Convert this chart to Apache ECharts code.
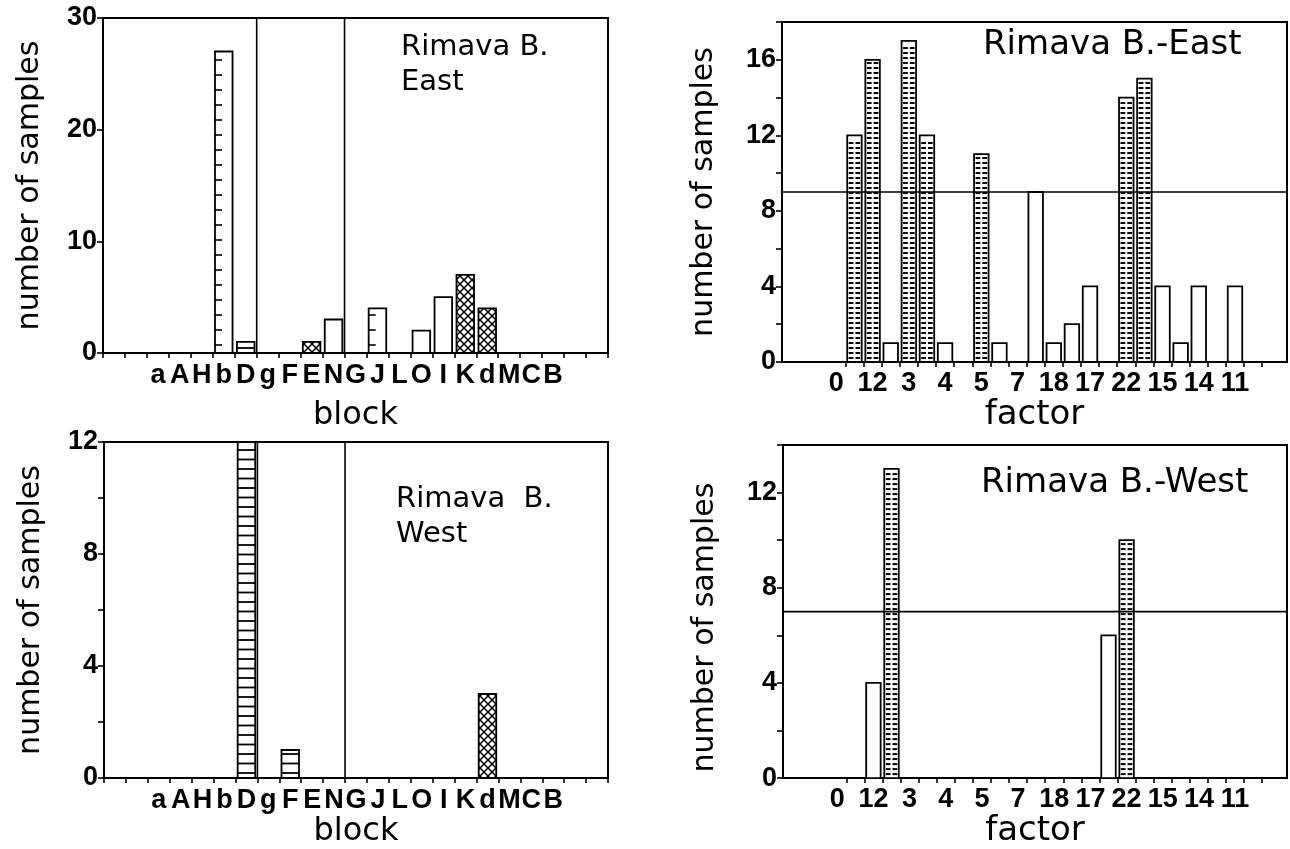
<!DOCTYPE html>
<html>
<head>
<meta charset="utf-8">
<title>Rimava B. blocks and factors</title>
<script src="https://cdn.jsdelivr.net/npm/echarts@6/dist/echarts.min.js"></script>
<style>
  html, body { margin: 0; padding: 0; background: #fff; }
  #chart { width: 1290px; height: 849px; }
</style>
</head>
<body>
<div id="chart"></div>
<script>
// ---- data ----
const blocks = ['', ' ', 'a', 'A', 'H', 'b', 'D', 'g', 'F', 'E', 'N', 'G', 'J', 'L', 'O', 'I', 'K', 'd', 'M', 'C', 'B', '  ', '   '];
const eastBlockCounts = [0, 0, 0, 0, 0, 27, 1, 0, 0, 1, 3, 0, 4, 0, 2, 5, 7, 4, 0, 0, 0, 0, 0];
const westBlockCounts = [0, 0, 0, 0, 0, 0, 12, 0, 1, 0, 0, 0, 0, 0, 0, 0, 0, 3, 0, 0, 0, 0, 0];
const blockHatch = { b: 'ruler', J: 'ruler', D: 'lines', F: 'lines', E: 'cross', K: 'cross', d: 'cross' };
const blockDividers = ['g', 'G'];

const factorLabels = ['0', '12', '3', '4', '5', '7', '18', '17', '22', '15', '14', '11'];
const factorLabelPos = [3, 5, 7, 9, 11, 13, 15, 17, 19, 21, 23, 25];
const eastFactorPos = [4, 5, 6, 7, 8, 9, 11, 12, 14, 15, 16, 17, 19, 20, 21, 22, 23, 25];
const eastFactorCounts = [12, 16, 1, 17, 12, 1, 11, 1, 9, 1, 2, 4, 14, 15, 4, 1, 4, 4];
const eastThreshold = 9;
const westFactorPos = [5, 6, 18, 19];
const westFactorCounts = [4, 13, 6, 10];
const westThreshold = 7;

const TICK_FONT = 'Liberation Sans';
const TITLE_FONT = 'DejaVu Sans';

function crossCanvas(step) {
  const c = document.createElement('canvas');
  c.width = c.height = step;
  const g = c.getContext('2d');
  g.fillStyle = '#fff';
  g.fillRect(0, 0, step, step);
  g.strokeStyle = '#000';
  g.lineWidth = 1.5;
  g.beginPath();
  g.moveTo(0, 0); g.lineTo(step, step);
  g.moveTo(step, 0); g.lineTo(0, step);
  g.stroke();
  return c;
}
const crossFill = { image: crossCanvas(8), repeat: 'repeat' };

// one bar drawn as a group: outline plus its hatching
function drawBar(api, xVal, yVal, bw, kind) {
  const p0 = api.coord([xVal, 0]);
  const p1 = api.coord([xVal, yVal]);
  const x = p0[0] - bw / 2, y = p1[1], h = p0[1] - p1[1];
  const kids = [{
    type: 'rect',
    shape: { x: x, y: y, width: bw, height: h },
    style: { fill: kind === 'cross' ? crossFill : '#fff', stroke: '#000', lineWidth: 1.8 }
  }];
  const ln = (x1, y1, x2, y2, w) => kids.push({
    type: 'line', shape: { x1: x1, y1: y1, x2: x2, y2: y2 },
    style: { stroke: '#000', lineWidth: w || 1.4 }
  });
  if (kind === 'lines') {
    for (let yy = p0[1] - 5; yy > y + 3; yy -= 9.5) ln(x, yy, x + bw, yy, 1.8);
  } else if (kind === 'ladder') {
    for (let yy = p0[1] - 4; yy > y + 3; yy -= 5) {
      ln(x + 1.5, yy, x + bw / 2 - 1, yy, 2);
      ln(x + bw / 2 + 1, yy, x + bw - 1.5, yy, 2);
    }
  } else if (kind === 'ruler') {
    for (let yy = p0[1] - 8; yy > y + 4; yy -= 15) ln(x, yy, x + bw * 0.4, yy, 1.6);
  }
  return { type: 'group', children: kids };
}

function blockSeries(idx, counts) {
  return {
    type: 'custom', xAxisIndex: idx, yAxisIndex: idx, silent: true,
    data: counts.map((v, i) => [i, v]).filter(d => d[1] > 0),
    renderItem: function (params, api) {
      const i = api.value(0);
      const bw = api.size([1, 0])[0] * 0.8;
      return drawBar(api, i, api.value(1), bw, blockHatch[blocks[i]] || 'open');
    }
  };
}

function dividerSeries(idx) {
  return {
    type: 'custom', xAxisIndex: idx, yAxisIndex: idx, silent: true,
    data: blockDividers.map(b => [blocks.indexOf(b), 0]),
    renderItem: function (params, api) {
      const p = api.coord([api.value(0), 0]);
      const x = p[0] - api.size([1, 0])[0] / 2;
      return {
        type: 'line', shape: { x1: x, y1: p[1], x2: x, y2: params.coordSys.y },
        style: { stroke: '#000', lineWidth: 1.6 }
      };
    }
  };
}

function factorSeries(idx, pos, counts, threshold) {
  return {
    type: 'custom', xAxisIndex: idx, yAxisIndex: idx, silent: true,
    data: pos.map((p, i) => [p, counts[i]]),
    renderItem: function (params, api) {
      const bw = api.size([1, 0])[0] * 0.8;
      const v = api.value(1);
      return drawBar(api, api.value(0), v, bw, v > threshold ? 'ladder' : 'open');
    }
  };
}

function thresholdSeries(idx, threshold) {
  return {
    type: 'custom', xAxisIndex: idx, yAxisIndex: idx, silent: true,
    data: [[0, threshold]],
    renderItem: function (params, api) {
      const y = api.coord([0, api.value(1)])[1];
      const cs = params.coordSys;
      return {
        type: 'line', shape: { x1: cs.x, y1: y, x2: cs.x + cs.width, y2: y },
        style: { stroke: '#000', lineWidth: 1.7 }
      };
    }
  };
}

const axisLine = { show: true, lineStyle: { color: '#000', width: 2 } };
const tickStyle = { color: '#000', width: 1.6 };
const tickLabel = { color: '#000', fontFamily: TICK_FONT, fontWeight: 'bold', fontSize: 27 };
const nameStyle = (size, pad) => ({ color: '#000', fontFamily: TITLE_FONT, fontSize: size, padding: pad || 0 });

function blockX(idx, gap) {
  return {
    type: 'category', gridIndex: idx, data: blocks, boundaryGap: true,
    axisLine: axisLine,
    axisTick: { show: true, interval: 0, length: 5, lineStyle: tickStyle },
    axisLabel: Object.assign({ interval: 0, margin: 9 }, tickLabel),
    name: 'block', nameLocation: 'middle', nameGap: gap, nameTextStyle: nameStyle(32)
  };
}

const factorTicks = [];
for (let t = 3.5; t <= 26.5; t += 1) factorTicks.push(t);

function factorX(idx, gap) {
  return {
    type: 'value', gridIndex: idx, min: 0, max: 27.87,
    splitLine: { show: false },
    axisLine: axisLine,
    axisTick: { show: true, length: 5, lineStyle: tickStyle, customValues: factorTicks },
    axisLabel: Object.assign({
      margin: 8, customValues: factorLabelPos,
      formatter: v => factorLabels[factorLabelPos.indexOf(v)] || ''
    }, tickLabel),
    name: 'factor', nameLocation: 'middle', nameGap: gap, nameTextStyle: nameStyle(34)
  };
}

function countY(idx, max, interval, labelStep, gap, pad) {
  return {
    type: 'value', gridIndex: idx, min: 0, max: max, interval: interval,
    splitLine: { show: false },
    axisLine: axisLine,
    axisTick: { show: true, length: 6, lineStyle: tickStyle },
    axisLabel: Object.assign({
      margin: 6,
      formatter: v => (v % labelStep === 0 ? String(v) : '')
    }, tickLabel),
    name: 'number of samples', nameLocation: 'middle', nameRotate: 90,
    nameGap: gap, nameTextStyle: nameStyle(30, pad)
  };
}

const gridBase = { show: true, borderColor: '#000', borderWidth: 2, backgroundColor: 'transparent' };

const panelText = (left, top, size, text) => ({
  type: 'text', left: left, top: top,
  style: { text: text, fill: '#000', font: size + 'px "' + TITLE_FONT + '"', lineHeight: 35 }
});

const chart = echarts.init(document.getElementById('chart'));
chart.setOption({
  backgroundColor: '#fff',
  animation: false,
  grid: [
    Object.assign({ left: 103, top: 18, width: 505, height: 335 }, gridBase),
    Object.assign({ left: 782, top: 22, width: 505, height: 340 }, gridBase),
    Object.assign({ left: 104, top: 442, width: 504, height: 336 }, gridBase),
    Object.assign({ left: 783, top: 445, width: 504, height: 337 }, gridBase)
  ],
  xAxis: [blockX(0, 47), factorX(1, 32), blockX(2, 38), factorX(3, 28)],
  yAxis: [
    countY(0, 30, 10, 10, 58),
    countY(1, 18, 2, 4, 63),
    countY(2, 12, 2, 4, 58),
    countY(3, 14, 2, 4, 63, [0, 32, 0, 0])
  ],
  graphic: [
    panelText(401, 30, 29, 'Rimava B.\nEast'),
    panelText(983, 28, 34, 'Rimava B.-East'),
    panelText(396, 482, 29, 'Rimava  B.\nWest'),
    panelText(981, 466, 34, 'Rimava B.-West')
  ],
  series: [
    blockSeries(0, eastBlockCounts),
    dividerSeries(0),
    factorSeries(1, eastFactorPos, eastFactorCounts, eastThreshold),
    thresholdSeries(1, eastThreshold),
    blockSeries(2, westBlockCounts),
    dividerSeries(2),
    factorSeries(3, westFactorPos, westFactorCounts, westThreshold),
    thresholdSeries(3, westThreshold)
  ]
});
</script>
</body>
</html>
